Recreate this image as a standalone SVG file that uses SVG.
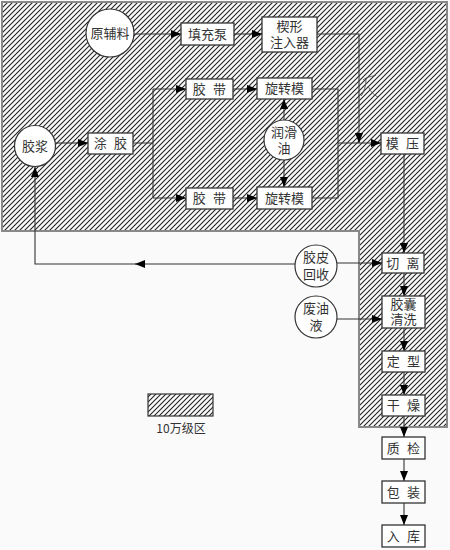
<svg xmlns="http://www.w3.org/2000/svg" width="450" height="550" viewBox="0 0 450 550">
<defs>
<pattern id="hatch" patternUnits="userSpaceOnUse" width="5" height="5">
<path d="M-1,1 L1,-1 M0,5 L5,0 M4,6 L6,4" stroke="#222" stroke-width="1.1"/>
</pattern>
<marker id="arr" viewBox="0 0 10 8" refX="10" refY="4" markerWidth="10" markerHeight="8" markerUnits="userSpaceOnUse" orient="auto">
<path d="M0,0 L10,4 L0,8 Z" fill="#000"/>
</marker>
</defs>
<style>
.box{fill:#fff;stroke:#333;stroke-width:1.3}
.circ{fill:#fff;stroke:#333;stroke-width:1.2}
.t{font-family:"Liberation Serif","Noto Sans CJK SC",serif;font-size:13px;fill:#333;text-anchor:middle}
.c{fill:none;stroke:#333;stroke-width:1.1}
.a{marker-end:url(#arr)}
</style>
<rect x="0" y="0" width="450" height="550" fill="#fafafa"/>
<g id="zone">
<path d="M2,2 H447 V427 H359 V231 H2 Z" fill="url(#hatch)" stroke="#888" stroke-width="2"/>
<path d="M363,80 C368,76 372,77 376,75 M366,78 C366,86 364,92 361,96 M368,86 C370,90 372,94 378,97" fill="none" stroke="#444" stroke-width="0.8"/>
</g>
<g id="legend">
<rect x="148" y="394" width="65" height="22" fill="url(#hatch)" stroke="#333" stroke-width="1.2"/>
<text x="181" y="433" style="font-family:'Noto Sans CJK SC',sans-serif;font-size:12px;fill:#333;text-anchor:middle">10万级区</text>
</g>
<g id="connectors">
<path class="c a" d="M134,34 H181"/>
<path class="c a" d="M234,34 H262"/>
<path class="c a" d="M317,34 H359 V143"/>
<path class="c a" d="M56,143 H88"/>
<path class="c" d="M133,143 H153 M153,89 V198"/>
<path class="c a" d="M153,89 H186"/>
<path class="c a" d="M153,198 H186"/>
<path class="c a" d="M233,89 H257"/>
<path class="c a" d="M233,198 H257"/>
<path class="c" d="M312,89 H338 V198 H312"/>
<path class="c a" d="M338,143 H381"/>
<path class="c a" d="M284,120 V99"/>
<path class="c a" d="M284,160 V187"/>
<path class="c a" d="M404,154 V253"/>
<path class="c a" d="M404,273 V296"/>
<path class="c a" d="M404,328 V351"/>
<path class="c a" d="M404,372 V395"/>
<path class="c a" d="M404,416 V437"/>
<path class="c a" d="M404,459 V481"/>
<path class="c a" d="M404,503 V525"/>
<path class="c a" d="M337,263 H382"/>
<path class="c a" d="M337,319 H382"/>
<path class="c a" d="M295,264 H135"/>
<path class="c a" d="M136,264 H35 V167"/>
</g>
<g id="n-yuanfuliao"><circle class="circ" cx="110" cy="33" r="24"/><text class="t" x="110" y="38">原辅料</text></g>
<g id="n-tianchongbeng"><rect class="box" x="181" y="23" width="53" height="22"/><text class="t" x="207.5" y="39">填充泵</text></g>
<g id="n-xiexing"><rect class="box" x="262" y="17" width="55" height="35"/><text class="t" x="289.5" y="31">楔形</text><text class="t" x="289.5" y="47">注入器</text></g>
<g id="n-jiaojiang"><circle class="circ" cx="35" cy="146" r="20.5"/><text class="t" x="35" y="151">胶浆</text></g>
<g id="n-tujiao"><rect class="box" x="88" y="133" width="45" height="21"/><text class="t" x="110.5" y="148" word-spacing="4">涂 胶</text></g>
<g id="n-jiaodai1"><rect class="box" x="186" y="79" width="47" height="20"/><text class="t" x="209.5" y="94" word-spacing="4">胶 带</text></g>
<g id="n-jiaodai2"><rect class="box" x="186" y="188" width="47" height="21"/><text class="t" x="209.5" y="203" word-spacing="4">胶 带</text></g>
<g id="n-xuanzhuan1"><rect class="box" x="257" y="78" width="55" height="21"/><text class="t" x="284.5" y="93">旋转模</text></g>
<g id="n-xuanzhuan2"><rect class="box" x="257" y="187" width="55" height="22"/><text class="t" x="284.5" y="203">旋转模</text></g>
<g id="n-runhuayou"><circle class="circ" cx="284" cy="140" r="20"/><text class="t" x="284" y="137">润滑</text><text class="t" x="284" y="153">油</text></g>
<g id="n-moya"><rect class="box" x="381" y="133" width="43" height="21"/><text class="t" x="402.5" y="148" word-spacing="4">模 压</text></g>
<g id="n-qieli"><rect class="box" x="382" y="253" width="42" height="20"/><text class="t" x="403" y="268" word-spacing="4">切 离</text></g>
<g id="n-jiaopi"><circle class="circ" cx="316" cy="266" r="21"/><text class="t" x="316" y="262">胶皮</text><text class="t" x="316" y="279">回收</text></g>
<g id="n-feiyouye"><circle class="circ" cx="316" cy="317" r="21"/><text class="t" x="316" y="313">废油</text><text class="t" x="316" y="330">液</text></g>
<g id="n-qingxi"><rect class="box" x="382" y="296" width="43" height="32"/><text class="t" x="403.5" y="309">胶囊</text><text class="t" x="403.5" y="324">清洗</text></g>
<g id="n-dingxing"><rect class="box" x="382" y="351" width="43" height="21"/><text class="t" x="403.5" y="366" word-spacing="4">定 型</text></g>
<g id="n-ganzao"><rect class="box" x="382" y="395" width="43" height="21"/><text class="t" x="403.5" y="410" word-spacing="4">干 燥</text></g>
<g id="n-zhijian"><rect class="box" x="382" y="437" width="43" height="22"/><text class="t" x="403.5" y="453" word-spacing="4">质 检</text></g>
<g id="n-baozhuang"><rect class="box" x="382" y="481" width="43" height="22"/><text class="t" x="403.5" y="497" word-spacing="4">包 装</text></g>
<g id="n-ruku"><rect class="box" x="382" y="525" width="43" height="22"/><text class="t" x="403.5" y="541" word-spacing="4">入 库</text></g>
</svg>
